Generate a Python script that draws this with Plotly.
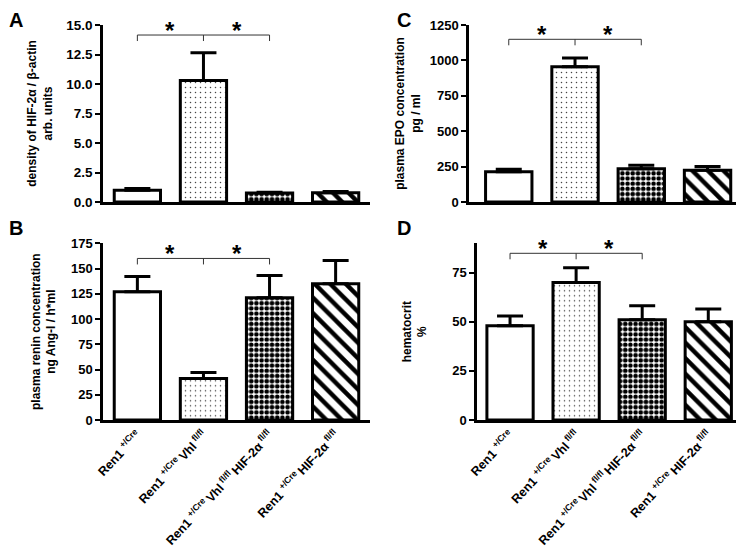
import plotly.graph_objects as go

# ---------------- data ----------------
groups = [
    "Ren1 <sup>+/Cre</sup>",
    "Ren1 <sup>+/Cre </sup>Vhl<sup> fl/fl</sup>",
    "Ren1 <sup>+/Cre </sup>Vhl<sup> fl/fl </sup>HIF-2α<sup> fl/fl</sup>",
    "Ren1 <sup>+/Cre </sup>HIF-2α<sup> fl/fl</sup>",
]
positions = [0, 1, 2, 3]

hif_mean = [1.0, 10.3, 0.76, 0.78]
hif_err = [0.15, 2.35, 0.07, 0.12]

renin_mean = [127, 41, 121, 135]
renin_err = [15, 6, 22, 23]

epo_mean = [213, 955, 235, 224]
epo_err = [18, 62, 25, 27]

hct_mean = [48, 70, 51, 50]
hct_err = [5, 7.5, 7.2, 6.5]

sig_pairs = [(0, 1), (1, 2)]
bracket_level = {"A": 14.15, "B": 160, "C": 1149, "D": 84.9}

hif_ticks = [0, 2.5, 5, 7.5, 10, 12.5, 15]
renin_ticks = [0, 25, 50, 75, 100, 125, 150, 175]
epo_ticks = [0, 250, 500, 750, 1000, 1250]
hct_ticks = [0, 25, 50, 75]

# ---------------- styling ----------------
PAGE_OFF = 8                      # default page body margin
W, H = 744 - PAGE_OFF, 547 - PAGE_OFF
FONT = "Arial, Liberation Sans, Helvetica, sans-serif"


def px_x(v):
    return (v - PAGE_OFF) / W


def px_y(v):
    return 1 - (v - PAGE_OFF) / H


patterns = [
    dict(shape="", bgcolor="white"),
    dict(shape=".", size=5, solidity=0.07, fgcolor="#444", bgcolor="white"),
    dict(shape=".", size=5.2, solidity=0.6, fgcolor="black", bgcolor="white"),
    dict(shape="\\", size=11, solidity=0.4, fgcolor="black", bgcolor="white"),
]

panels = [
    ("A", hif_mean, hif_err, "x", "y", (103, 370), (25, 202), (0, 15), hif_ticks, ".1f",
     "density of HIF-2α / β-actin<br>arb. units", 12, (-0.52, 3.52), False, 13.5),
    ("B", renin_mean, renin_err, "x2", "y2", (103, 370), (243.3, 420), (0, 175), renin_ticks, "d",
     "plasma renin concentration<br>ng Ang-I / h*ml", 13, (-0.52, 3.52), True, 13),
    ("C", epo_mean, epo_err, "x3", "y3", (469, 742), (25, 202), (0, 1250), epo_ticks, "d",
     "plasma EPO concentration<br>pg / ml", 7, (-0.6, 3.52), False, 13),
    ("D", hct_mean, hct_err, "x4", "y4", (477, 740), (243.3, 420), (0, 90), hct_ticks, "d",
     "hematocrit<br>%", 23, (-0.5, 3.48), True, 13),
]

fig = go.Figure()
layout = dict(
    template="none",
    width=W, height=H,
    margin=dict(l=0, r=0, t=0, b=0, autoexpand=False),
    paper_bgcolor="white", plot_bgcolor="white",
    showlegend=False,
    font=dict(family=FONT, color="black"),
)
shapes = []
annotations = []

for key, means, errs, xa, ya, xd, yd, yr, ticks, fmt, title, standoff, xr, show_x, tfs in panels:
    for i in range(4):
        fig.add_trace(go.Bar(
            x=[positions[i]], y=[means[i]], width=0.7,
            xaxis=xa, yaxis=ya,
            marker=dict(color="white", line=dict(color="black", width=3),
                        pattern=patterns[i]),
            error_y=dict(type="data", symmetric=False, array=[errs[i]], arrayminus=[0],
                         color="black", thickness=3, width=13),
            hoverinfo="skip",
        ))
    xname = "xaxis" if xa == "x" else "xaxis" + xa[1:]
    yname = "yaxis" if ya == "y" else "yaxis" + ya[1:]
    layout[xname] = dict(
        domain=[px_x(xd[0]), px_x(xd[1])], anchor=ya, range=list(xr), automargin=False,
        showline=True, linecolor="black", linewidth=2.5, ticks="",
        showgrid=False, zeroline=False,
        tickvals=positions, ticktext=groups, showticklabels=show_x,
        tickangle=-47, tickfont=dict(size=12.5, family=FONT, weight="bold", color="black"),
    )
    layout[yname] = dict(
        domain=[px_y(yd[1]), px_y(yd[0])], anchor=xa, range=list(yr), automargin=False,
        showline=True, linecolor="black", linewidth=2.5,
        ticks="outside", ticklen=5, tickwidth=2, tickcolor="black",
        tickvals=ticks, tickformat=fmt, showgrid=False, zeroline=False,
        tickfont=dict(size=tfs, family=FONT, weight="bold", color="black"),
        title=dict(text=title, standoff=standoff,
                   font=dict(size=12, family=FONT, weight="bold", color="black")),
    )
    # significance brackets
    b = bracket_level[key]
    xs = sorted(set([p for pair in sig_pairs for p in pair]))
    shapes.append(dict(type="line", xref=xa, yref=ya, x0=min(xs), x1=max(xs), y0=b, y1=b,
                       line=dict(color="#333", width=1)))
    for xv in xs:
        shapes.append(dict(type="line", xref=xa, yref=ya, x0=xv, x1=xv,
                           ysizemode="pixel", yanchor=b, y0=-6, y1=0,
                           line=dict(color="#333", width=1)))
    for a, c in sig_pairs:
        annotations.append(dict(xref=xa, yref=ya, x=(a + c) / 2, y=b, text="*",
                                showarrow=False, yanchor="middle", yshift=5,
                                font=dict(size=24, family=FONT, weight="bold", color="black")))
    # panel letter
    lx = 0 if key in "AB" else px_x(396)
    ly = 1 if key in "AC" else px_y(216)
    annotations.append(dict(xref="paper", yref="paper", x=lx, y=ly, borderpad=0,
                            xanchor="left", yanchor="top", text=key, showarrow=False,
                            font=dict(size=20, family=FONT, weight="bold", color="black")))

layout["shapes"] = shapes
layout["annotations"] = annotations
fig.update_layout(**layout)
fig.write_html("out.html")
